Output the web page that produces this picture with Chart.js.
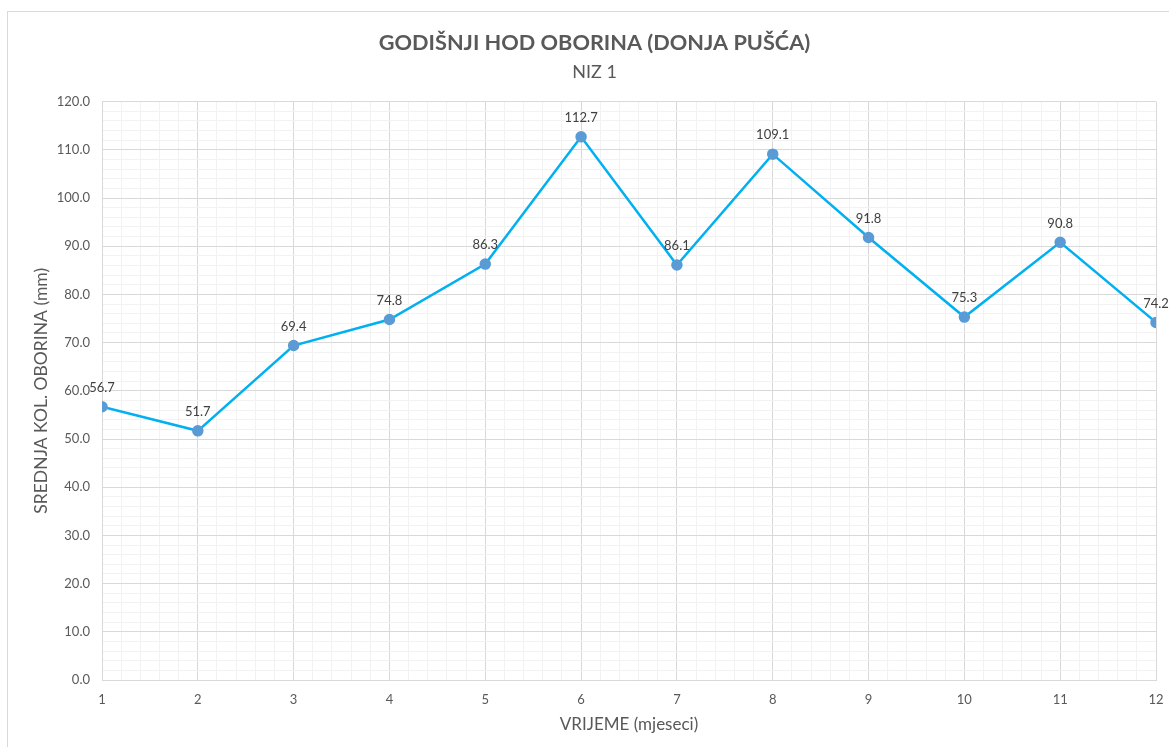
<!DOCTYPE html>
<html>
<head>
<meta charset="utf-8">
<script src="https://cdn.jsdelivr.net/npm/chart.js@4/dist/chart.umd.min.js"></script>
<style>
  html, body { margin: 0; padding: 0; background: #fff; }
  #wrap { width: 1169px; height: 747px; position: relative; }
</style>
</head>
<body>
<div id="wrap"><canvas id="chart"></canvas></div>
<script>
const months = [1, 2, 3, 4, 5, 6, 7, 8, 9, 10, 11, 12];
const rainfall = [56.7, 51.7, 69.4, 74.8, 86.3, 112.7, 86.1, 109.1, 91.8, 75.3, 90.8, 74.2];

const titleText = "GODIŠNJI HOD OBORINA (DONJA PUŠĆA)";
const subtitleText = "NIZ 1";
const yTitle = "SREDNJA KOL. OBORINA (mm)";
const xTitle = "VRIJEME (mjeseci)";

const textGrey = "#595959";
const majorGrid = "#D9D9D9";
const minorGrid = "#F2F2F2";

function isWhole(v, step) {
  return Math.abs(v / step - Math.round(v / step)) < 1e-6;
}

// frame around the chart, like the excel chart border
const framePlugin = {
  id: "frame",
  beforeDraw(chart) {
    const ctx = chart.ctx;
    ctx.save();
    ctx.strokeStyle = "#D9D9D9";
    ctx.lineWidth = 1;
    ctx.strokeRect(7.5, 11.5, 1200, 800);
    ctx.restore();
  }
};

// value labels above each point
const valueLabels = {
  id: "valueLabels",
  afterDatasetsDraw(chart) {
    const ctx = chart.ctx;
    const meta = chart.getDatasetMeta(0);
    ctx.save();
    ctx.font = "13px Lato";
    ctx.fillStyle = "#404040";
    ctx.textAlign = "center";
    ctx.textBaseline = "middle";
    meta.data.forEach((pt, i) => {
      ctx.fillText(rainfall[i].toFixed(1), pt.x, pt.y - 19);
    });
    ctx.restore();
  }
};

new Chart(document.getElementById("chart"), {
  type: "line",
  data: {
    datasets: [
      {
        data: months.map((m, i) => ({ x: m, y: rainfall[i] })),
        borderColor: "#00B0F0",
        borderWidth: 2.5,
        backgroundColor: "#5B9BD5",
        pointBackgroundColor: "#5B9BD5",
        pointBorderColor: "#5B9BD5",
        pointRadius: 4.5,
        tension: 0,
      },
    ],
  },
  options: {
    responsive: true,
    maintainAspectRatio: false,
    animation: false,
    layout: { padding: { left: 20, right: 0, top: 0, bottom: 0 } },
    plugins: {
      legend: { display: false },
      tooltip: { enabled: false },
      title: {
        display: true,
        text: titleText,
        color: textGrey,
        font: { family: "Lato", size: 21.7, weight: "bold" },
        padding: { top: 30, bottom: 5 },
      },
      subtitle: {
        display: true,
        text: subtitleText,
        color: textGrey,
        font: { family: "Lato", size: 18 },
        padding: { top: 0, bottom: 19 },
      },
    },
    scales: {
      x: {
        type: "linear",
        min: 1,
        max: 12,
        afterFit: (scale) => {
          scale.height = 67;
          scale.paddingRight = 13;
          scale.paddingLeft = 0;
        },
        ticks: {
          stepSize: 0.2,
          autoSkip: false,
          maxRotation: 0,
          color: textGrey,
          font: { family: "Lato", size: 13 },
          padding: 12,
          callback: (v) => (isWhole(v, 1) ? String(Math.round(v)) : ""),
        },
        grid: {
          drawTicks: false,
          color: (c) => (isWhole(c.tick.value, 1) ? majorGrid : minorGrid),
        },
        border: { color: majorGrid },
        title: {
          display: true,
          text: xTitle,
          color: textGrey,
          font: { family: "Lato", size: 17 },
          padding: { top: 0, bottom: 12 },
        },
      },
      y: {
        min: 0,
        max: 120,
        afterFit: (scale) => { scale.width = 82; },
        ticks: {
          stepSize: 2,
          autoSkip: false,
          color: textGrey,
          font: { family: "Lato", size: 13 },
          padding: 12,
          callback: (v) => (isWhole(v, 10) ? v.toFixed(1) : ""),
        },
        grid: {
          drawTicks: false,
          color: (c) => (isWhole(c.tick.value, 10) ? majorGrid : minorGrid),
        },
        border: { color: majorGrid },
        title: {
          display: true,
          text: yTitle,
          color: textGrey,
          font: { family: "Lato", size: 17.5 },
          padding: { top: 11, bottom: 0 },
        },
      },
    },
  },
  plugins: [framePlugin, valueLabels],
});
</script>
</body>
</html>
